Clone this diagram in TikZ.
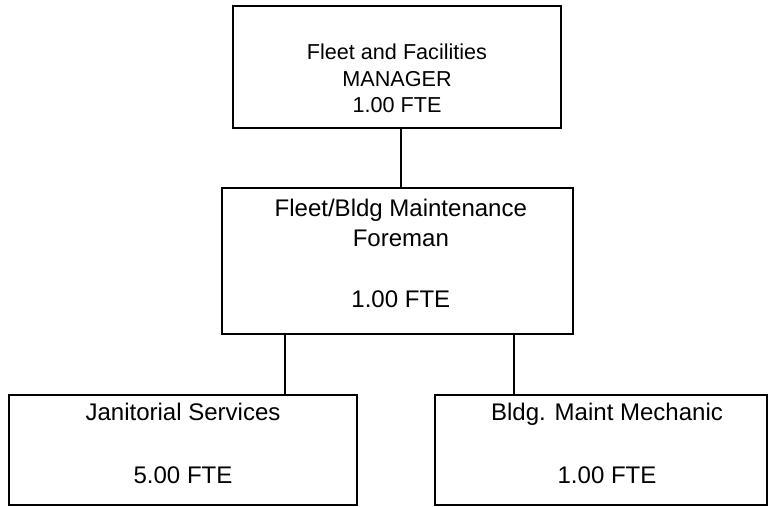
\documentclass[tikz,border=0pt]{standalone}
\usepackage{fontspec}
\setmainfont{Liberation Sans}
\usepackage{tikz}
\usetikzlibrary{calc}
\tikzset{unitbox/.style={draw,rectangle,inner sep=0pt,outer sep=0pt}}
\tikzset{unittext/.style={align=center,inner sep=0pt,font=\fontsize{20.5}{25.6}\selectfont}}

\begin{document}
\begin{tikzpicture}[line width=1.5pt]
        \useasboundingbox (0,0) rectangle (23.04,-15.18);
        \node (mgr) at (11.91,-2.01) [unitbox,minimum width=9.84cm,minimum height=3.66cm] {};
        \node (fore) at (11.925,-7.83) [unitbox,minimum width=10.53cm,minimum height=4.38cm] {};
        \node (jan) at (5.49,-13.5) [unitbox,minimum width=10.44cm,minimum height=3.3cm] {};
        \node (mech) at (18.03,-13.5) [unitbox,minimum width=9.96cm,minimum height=3.3cm] {};
        \node (mgrtext) at ($(mgr.center)+(0,-0.35)$) [unittext,font=\fontsize{18.44}{22.6}\selectfont]
            {Fleet and Facilities\\MANAGER\\1.00 FTE};
        \node (foretext) at ($(fore.center)+(0.1,0.216)$) [unittext]
            {Fleet/Bldg Maintenance\\Foreman\\[26.4pt]1.00 FTE};
        \node (jantext) at ($(jan.center)+(0,0.21)$) [unittext]
            {Janitorial Services\\[28.1pt]5.00 FTE};
        \node (mechtext) at ($(mech.center)+(0.18,0.21)$) [unittext]
            {Bldg. Maint Mechanic\\[28.1pt]1.00 FTE};
        \coordinate (m0) at ($(mgr.south)+(0.12,0)$);
        \coordinate (f1) at ($(fore.south)+(-3.375,0)$);
        \coordinate (f2) at ($(fore.south)+(3.495,0)$);
        \draw (m0) -- (m0 |- fore.north);
        \draw (f1) -- (f1 |- jan.north);
        \draw (f2) -- (f2 |- mech.north);
    \end{tikzpicture}
\end{document}
